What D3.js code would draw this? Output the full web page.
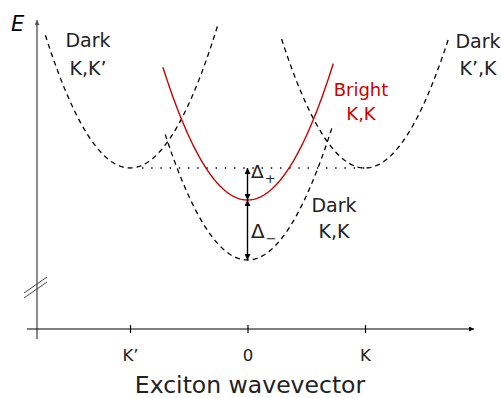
<!DOCTYPE html>
<html>
<head>
<meta charset="utf-8">
<script src="https://cdn.jsdelivr.net/npm/d3@7"></script>
<style>
  body { margin: 0; background: #fff; }
  svg { display: block; font-family: "DejaVu Sans", sans-serif; }
</style>
</head>
<body>
<svg width="501" height="398"></svg>
<script>
// wavevector ticks
const tickValues = [-1, 0, 1];
const tickLabels = ["K\u2019", "0", "K"];

// band minima (arb. energy units) and curvature
const bandNames = ["Dark K,K'", "Dark K',K", "Dark K,K", "Bright K,K"];
const bandCenters = [-1, 1, 0, 0];
const bandMinima = [46, 46, 0, 30];
const bandCurv = [128, 128, 128, 128];
const bandRanges = [[-1.72, -0.25], [0.29, 1.71], [-0.70, 0.72], [-0.72, 0.73]];
const bandBright = [false, false, false, true];

const svg = d3.select("svg");
const red = "#cc0000";

const x = d3.scaleLinear().domain([-1, 1]).range([130, 365]);
const y = d3.scaleLinear().domain([-34.5, 120]).range([329, 20]);

const defs = svg.append("defs");
const mk = (id, color, w, h) => defs.append("marker")
    .attr("id", id).attr("viewBox", "0 -5 10 10")
    .attr("refX", 10).attr("refY", 0)
    .attr("markerWidth", w).attr("markerHeight", h)
    .attr("markerUnits", "userSpaceOnUse")
    .attr("orient", "auto-start-reverse")
  .append("path").attr("d", "M0,-5L10,0L0,5Z").attr("fill", color);
mk("axarrow", "#000", 8, 5);
mk("yarrow", "#555", 6, 5);
mk("darrow", "#000", 8, 6);

// y axis (energy, broken)
svg.append("line")
    .attr("x1", 37).attr("x2", 37).attr("y1", 339).attr("y2", 20)
    .attr("stroke", "#666").attr("stroke-width", 1.5)
    .attr("marker-end", "url(#yarrow)");
[0, 5].forEach(o => {
  svg.append("line")
      .attr("x1", 24).attr("y1", 293 + o).attr("x2", 47).attr("y2", 277 + o)
      .attr("stroke", "#444").attr("stroke-width", 1);
});
svg.append("text").attr("x", 11).attr("y", 31)
    .attr("font-size", 21).attr("font-style", "italic").text("E");

// x axis
svg.append("line")
    .attr("x1", 27).attr("x2", 474).attr("y1", 329).attr("y2", 329)
    .attr("stroke", "#000").attr("stroke-width", 1.2)
    .attr("marker-end", "url(#axarrow)");
const xa = svg.append("g").attr("transform", "translate(0,329)")
    .call(d3.axisBottom(x).tickValues(tickValues)
      .tickFormat((d, i) => tickLabels[i]).tickSize(4).tickPadding(16));
xa.select(".domain").remove();
xa.selectAll(".tick line").attr("y1", -4).attr("y2", 4).attr("stroke-width", 1.2);
xa.selectAll(".tick text").attr("font-size", 16.5).attr("font-family", "DejaVu Sans")
    .attr("fill", "#222");
svg.append("text").attr("x", 250).attr("y", 393)
    .attr("text-anchor", "middle").attr("font-size", 23.5)
    .attr("fill", "#222").text("Exciton wavevector");

// reference dotted line at dark K,K' minimum
svg.append("line")
    .attr("x1", x(-1) + 12).attr("x2", x(1)).attr("y1", y(46)).attr("y2", y(46))
    .attr("stroke", "#000").attr("stroke-width", 1.3)
    .attr("stroke-dasharray", "1.4,7.8");

// bands
const line = d3.line().x(d => x(d[0])).y(d => y(d[1]));
bandNames.forEach((n, i) => {
  const pts = d3.range(bandRanges[i][0], bandRanges[i][1] + 1e-9, 0.01)
    .map(k => [k, bandMinima[i] + bandCurv[i] * (k - bandCenters[i]) ** 2]);
  svg.append("path").datum(pts)
      .attr("d", line).attr("fill", "none")
      .attr("stroke", bandBright[i] ? red : "#000")
      .attr("stroke-width", bandBright[i] ? 1.4 : 1.3)
      .attr("stroke-dasharray", bandBright[i] ? null : "5,4");
});

// splitting arrows
const dbl = (e1, e2) => svg.append("line")
    .attr("x1", x(0)).attr("x2", x(0)).attr("y1", y(e1)).attr("y2", y(e2))
    .attr("stroke", "#000").attr("stroke-width", 1.4)
    .attr("marker-start", "url(#darrow)").attr("marker-end", "url(#darrow)");
dbl(46, 30);
dbl(30, 0);

const delta = (xx, yy, sub, sz) => {
  const t = svg.append("text").attr("x", xx).attr("y", yy).attr("font-size", sz)
      .attr("fill", "#222");
  t.append("tspan").text("\u0394");
  t.append("tspan").attr("font-size", 13).attr("dx", 1).attr("dy", 5).text(sub);
};
delta(251, 178, "+", 18.5);
delta(251, 238, "\u2212", 20);

// band labels
const label = (cx, yy, gap, lines, color, sz) => {
  lines.forEach((s, j) => svg.append("text")
      .attr("x", cx).attr("y", yy + j * gap).attr("text-anchor", "middle")
      .attr("font-size", sz).attr("fill", color).text(s));
};
label(88, 47, 28, ["Dark", "K,K\u2019"], "#222", 19);
label(478, 48, 27, ["Dark", "K\u2019,K"], "#222", 19);
label(361, 96, 24, ["Bright", "K,K"], red, 18);
label(334, 212, 26, ["Dark", "K,K"], "#222", 19);
</script>
</body>
</html>
